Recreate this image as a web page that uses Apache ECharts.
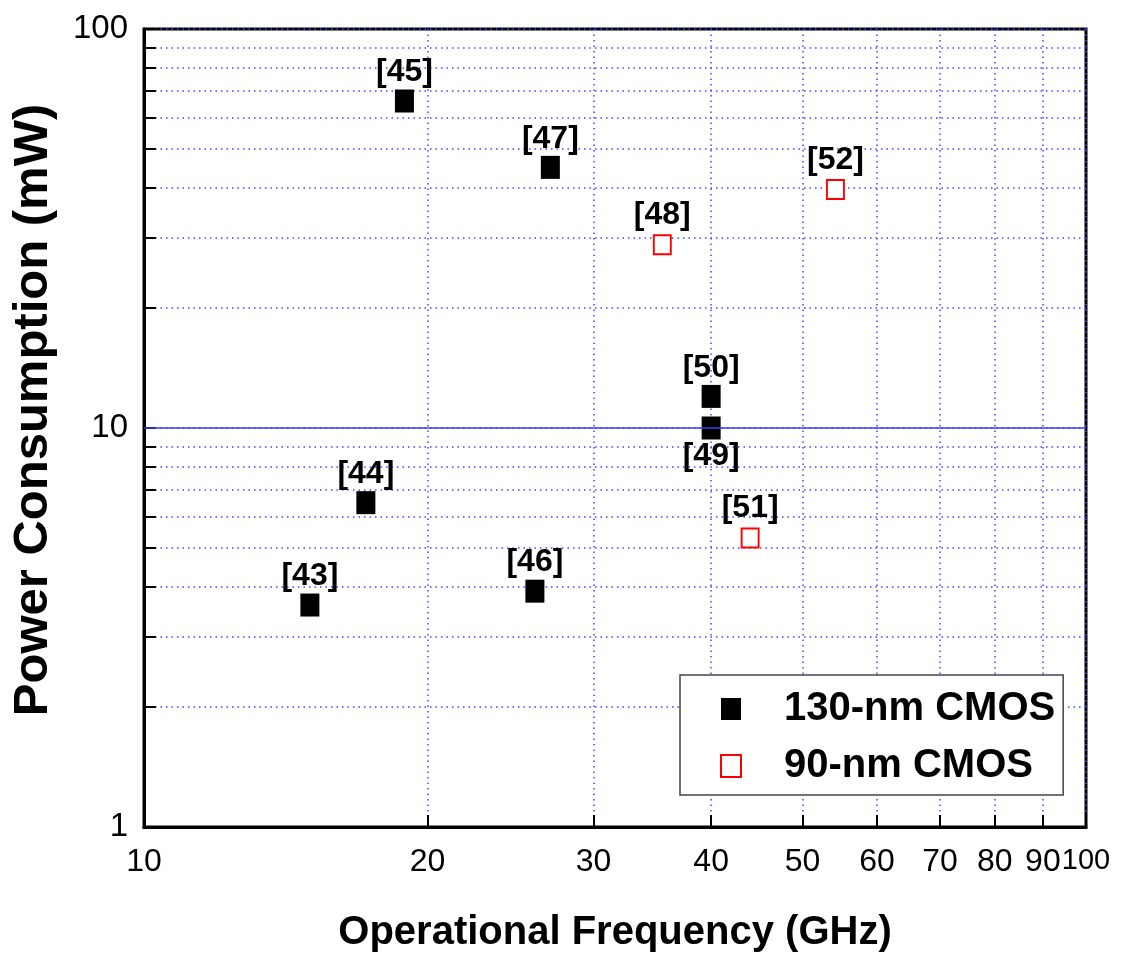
<!DOCTYPE html>
<html>
<head>
<meta charset="utf-8">
<script src="https://cdn.jsdelivr.net/npm/echarts@6/dist/echarts.min.js"></script>
<style>
  html, body { margin: 0; padding: 0; background: #fff; }
  #chart { width: 1129px; height: 960px; }
</style>
</head>
<body>
<div id="chart"></div>
<script>
// values
var refs130 = ['[43]', '[44]', '[45]', '[46]', '[47]', '[49]', '[50]'];
var freq130 = [15, 17.2, 18.9, 26, 27, 40, 40];
var power130 = [3.6, 6.5, 66, 3.9, 45, 10, 12];

var refs90 = ['[48]', '[51]', '[52]'];
var freq90 = [35.5, 44, 54.2];
var power90 = [28.8, 5.3, 39.6];

var xTicks = [10, 20, 30, 40, 50, 60, 70, 80, 90, 100];
var yTicks = [1, 2, 3, 4, 5, 6, 7, 8, 9, 10, 20, 30, 40, 50, 60, 70, 80, 90, 100];
var yLabels = [1, 10, 100];

var FONT = '"Liberation Sans", Arial, sans-serif';
var lg = Math.log10;

function pts(xs, ys, names, below) {
    return xs.map(function (x, i) {
        var d = { value: [lg(x), lg(ys[i])], name: names[i] };
        if (below.indexOf(names[i]) >= 0) {
            d.label = { position: 'bottom' };
        }
        return d;
    });
}

function powLabel(v) {
    return String(Math.round(Math.pow(10, v)));
}

var gridLine = { show: true, lineStyle: { color: '#4545ff', type: [1.5, 4], width: 1.5 } };

var chartDom = document.getElementById('chart');
var myChart = echarts.init(chartDom);
var option;

option = {
    animation: false,
    backgroundColor: '#fff',
    grid: {
        left: 144, right: 43, top: 29, bottom: 133,
        outerBoundsMode: 'none', containLabel: false,
        show: true, borderColor: '#000', borderWidth: 3
    },
    legend: {
        orient: 'vertical',
        left: 680, top: 675,
        padding: [14, 8, 9, 40],
        itemWidth: 20, itemHeight: 22, itemGap: 17,
        borderColor: '#444', borderWidth: 1.5,
        backgroundColor: '#fff',
        textStyle: {
            fontFamily: FONT, fontSize: 40, fontWeight: 'bold', color: '#000',
            padding: [0, 0, 0, 38]
        },
        data: ['130-nm CMOS', '90-nm CMOS']
    },
    xAxis: {
        type: 'value', min: 1, max: 2,
        name: 'Operational Frequency (GHz)',
        nameLocation: 'middle', nameGap: 86,
        nameTextStyle: { fontFamily: FONT, fontSize: 40, fontWeight: 'bold', color: '#000' },
        axisLine: { lineStyle: { color: '#000', width: 3 } },
        axisTick: {
            inside: true, length: 12, lineStyle: { color: '#000', width: 2 },
            customValues: xTicks.map(lg)
        },
        axisLabel: {
            margin: 19, fontFamily: FONT, fontSize: 32, color: '#000',
            hideOverlap: false,
            customValues: xTicks.map(lg),
            formatter: function (v) {
                var s = powLabel(v);
                return s === '100' ? '{s|' + s + '}' : s;
            },
            rich: { s: { fontFamily: FONT, fontSize: 29, color: '#000' } }
        },
        splitLine: gridLine
    },
    yAxis: {
        type: 'value', min: 0, max: 2,
        name: 'Power Consumption (mW)',
        nameLocation: 'middle', nameGap: 86,
        nameTextStyle: {
            fontFamily: FONT, fontSize: 49, fontWeight: 'bold', color: '#000',
            padding: [0, 0, 0, 36]
        },
        axisLine: { lineStyle: { color: '#000', width: 3 } },
        axisTick: {
            inside: true, length: 12, lineStyle: { color: '#000', width: 2 },
            customValues: yTicks.map(lg)
        },
        axisLabel: {
            margin: 16, fontFamily: FONT, fontSize: 33, color: '#000',
            showMinLabel: true, showMaxLabel: true, hideOverlap: false,
            customValues: yLabels.map(lg),
            formatter: powLabel
        },
        splitLine: gridLine
    },
    series: [
        {
            name: '130-nm CMOS',
            type: 'scatter',
            symbol: 'rect',
            symbolSize: [19, 23],
            itemStyle: { color: '#000', opacity: 1 },
            data: pts(freq130, power130, refs130, ['[49]']),
            label: {
                show: true, position: 'top', distance: 1,
                formatter: '{b}',
                fontFamily: FONT, fontSize: 32, fontWeight: 'bold', color: '#000'
            },
            markLine: {
                silent: true, symbol: 'none', animation: false,
                label: { show: false },
                lineStyle: { color: '#3c3cf0', type: 'solid', width: 1.5 },
                data: [{ yAxis: lg(10) }]
            },
            z: 3
        },
        {
            name: '90-nm CMOS',
            type: 'scatter',
            symbol: 'rect',
            symbolSize: [17, 19],
            itemStyle: { color: '#fff', borderColor: '#ff0000', borderWidth: 2, opacity: 1 },
            data: pts(freq90, power90, refs90, []),
            label: {
                show: true, position: 'top', distance: 3,
                formatter: '{b}',
                fontFamily: FONT, fontSize: 32, fontWeight: 'bold', color: '#000'
            },
            z: 3
        }
    ]
};

option && myChart.setOption(option);
</script>
</body>
</html>
